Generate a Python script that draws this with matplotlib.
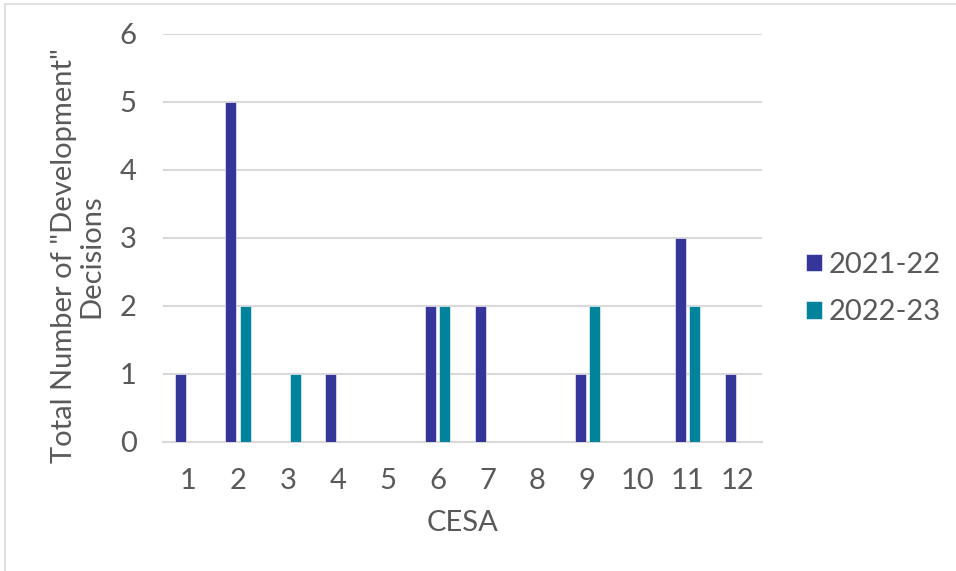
import matplotlib
matplotlib.use("Agg")
import matplotlib.pyplot as plt
import numpy as np
from matplotlib.patches import Rectangle

plt.rcParams['font.family'] = ['Lato', 'DejaVu Sans']

categories = ['1', '2', '3', '4', '5', '6', '7', '8', '9', '10', '11', '12']
series_names = ['2021-22', '2022-23']
values_2021 = [1, 5, 0, 1, 0, 2, 2, 0, 1, 0, 3, 1]
values_2022 = [0, 2, 1, 0, 0, 2, 0, 0, 2, 0, 2, 0]
colors = ['#35359A', '#00839B']
text_color = '#595959'
fs = 21

fig = plt.figure(figsize=(9.56, 5.71), dpi=100)
ax = fig.add_axes([163/956, 1-442/571, (762-163)/956, (442-34)/571])

x = np.arange(len(categories))
w = 0.22
ax.bar(x - 0.14, values_2021, width=w, color=colors[0], label=series_names[0], zorder=3,
       edgecolor='white', linewidth=0.4)
ax.bar(x + 0.145, values_2022, width=w, color=colors[1], label=series_names[1], zorder=3,
       edgecolor='white', linewidth=0.4)

ax.set_xlim(-0.5, len(categories) - 0.5)
ax.set_ylim(0, 6)
ax.set_yticks(range(0, 7))
ax.set_xticks(x)
ax.set_xticklabels(categories)
ax.grid(axis='y', color='#D9D9D9', linewidth=1.5, zorder=0)
ax.set_axisbelow(True)
for s in ['top', 'right', 'left']:
    ax.spines[s].set_visible(False)
ax.spines['bottom'].set_color('#D9D9D9')
ax.spines['bottom'].set_linewidth(1.5)
ax.tick_params(axis='both', length=0, labelsize=fs, labelcolor=text_color)
ax.tick_params(axis='y', pad=19)
ax.tick_params(axis='x', pad=19)

ax.set_xlabel('CESA', fontsize=fs, color=text_color, labelpad=11)
fig.text(78/956, 1-256/571, 'Total Number of "Development"\nDecisions', fontsize=fs,
         color=text_color, rotation=90, ha='center', va='center', multialignment='center',
         linespacing=1.05)

leg = ax.legend(loc='center left', bbox_to_anchor=(806/956, 1-288.5/571), bbox_transform=fig.transFigure,
                frameon=False, fontsize=fs, handlelength=0.55, handleheight=0.55,
                handletextpad=0.24, labelspacing=0.73, borderaxespad=0, borderpad=0)
for t in leg.get_texts():
    t.set_color(text_color)

fig.patches.append(Rectangle((5/956, -0.1), 1.2, 1.1 - 4/571, transform=fig.transFigure,
                             fill=False, edgecolor='#D9D9D9', linewidth=1.2))

fig.savefig('out.png', dpi=100, facecolor='white')
